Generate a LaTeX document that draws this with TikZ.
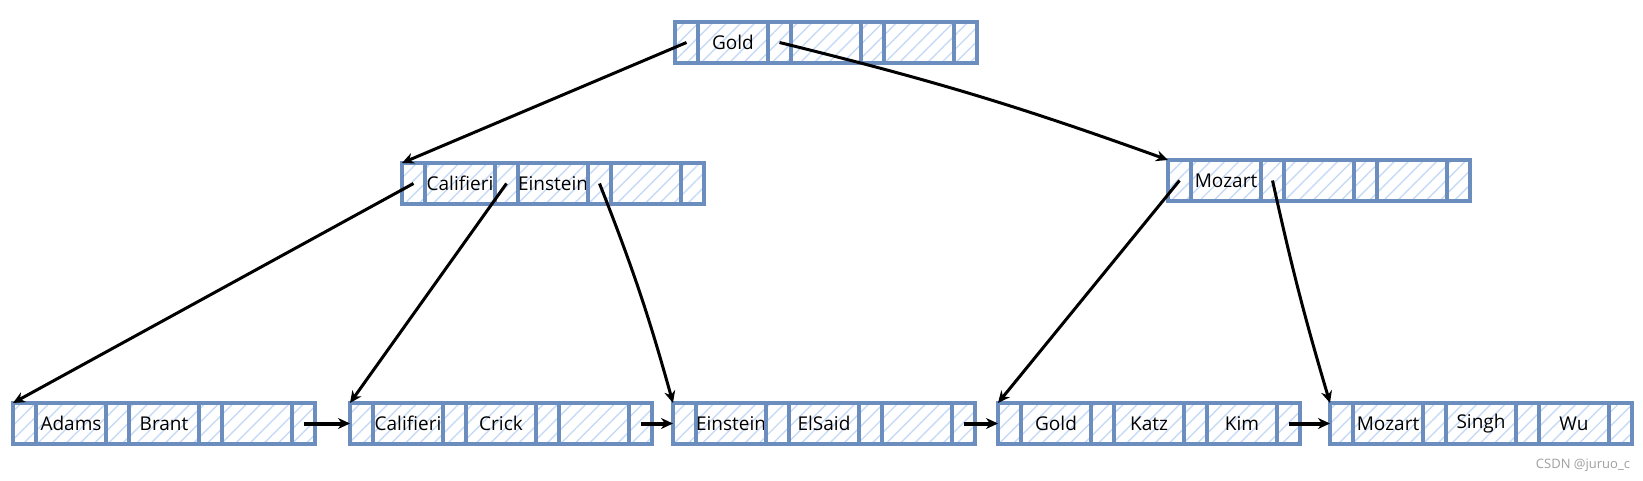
\documentclass[tikz,border=0pt]{standalone}
\usepackage{fontspec}
\setmainfont{Open Sans}
\usetikzlibrary{positioning,arrows.meta,patterns.meta}
\definecolor{cellborder}{HTML}{6C8EBF}
\definecolor{cellhatch}{HTML}{C6DAF6}

% one tree node: pointer, key, pointer, key, pointer, key, pointer
\newcommand{\bnode}[5]{%
  \node[ptr cell, anchor=north west] (#1-p1) at (#2) {};
  \node[key cell] (#1-k1) [right=0pt of #1-p1] {#3};
  \node[ptr cell] (#1-p2) [right=0pt of #1-k1] {};
  \node[key cell] (#1-k2) [right=0pt of #1-p2] {#4};
  \node[ptr cell] (#1-p3) [right=0pt of #1-k2] {};
  \node[key cell] (#1-k3) [right=0pt of #1-p3] {#5};
  \node[ptr cell] (#1-p4) [right=0pt of #1-k3] {};
}

\begin{document}
\begin{tikzpicture}[x=1pt,y=-1pt,>={Stealth[length=12pt,width=11pt]},
    cell/.style={draw=cellborder,line width=4pt,outer sep=0pt,inner sep=0pt,minimum height=41pt,
      pattern={Lines[angle=45,distance=10pt,line width=1.4pt]},pattern color=cellhatch,
      font=\fontsize{19}{21}\selectfont},
    ptr cell/.style={cell,minimum width=23pt},
    key cell/.style={cell,minimum width=70pt},
    child link/.style={->,line width=3pt},
    leaf link/.style={->,line width=4pt}]
    \useasboundingbox (0,0) rectangle (1643,481);

    % root and inner nodes
    \bnode{root}{675,22}{Gold}{}{}
    \bnode{calif}{402,163}{Califieri}{Einstein}{}
    \bnode{mozart}{1168,160}{Mozart}{}{}

    % leaves
    \bnode{adams}{13,403}{Adams}{Brant}{}
    \bnode{califl}{350,403}{Califieri}{Crick}{}
    \bnode{einst}{673,403}{Einstein}{ElSaid}{}
    \bnode{goldl}{998,403}{Gold}{Katz}{Kim}
    \bnode{mozl}{1330,403}{Mozart}{Singh}{Wu}

    \draw[child link] (root-p1.center) -- (calif-p1.north west);
    \draw[child link] (root-p2.center) to[bend left=3] (mozart-p1.north west);

    \draw[child link] (calif-p1.center) -- (adams-p1.north west);
    \draw[child link] (calif-p2.center) -- (califl-p1.north west);
    \draw[child link] (calif-p3.center) to[bend left=3] (einst-p1.north west);

    \draw[child link] (mozart-p1.center) -- (goldl-p1.north west);
    \draw[child link] (mozart-p2.center) to[bend right=2] (mozl-p1.north west);

    \draw[leaf link] (adams-p4.center) -- (califl-p1.west);
    \draw[leaf link] (califl-p4.center) -- (einst-p1.west);
    \draw[leaf link] (einst-p4.center) -- (goldl-p1.west);
    \draw[leaf link] (goldl-p4.center) -- (mozl-p1.west);

    \node[text=gray!75,font=\fontsize{13}{15}\selectfont] (mark) at (1583,465) {CSDN @juruo\_c};
\end{tikzpicture}
\end{document}
